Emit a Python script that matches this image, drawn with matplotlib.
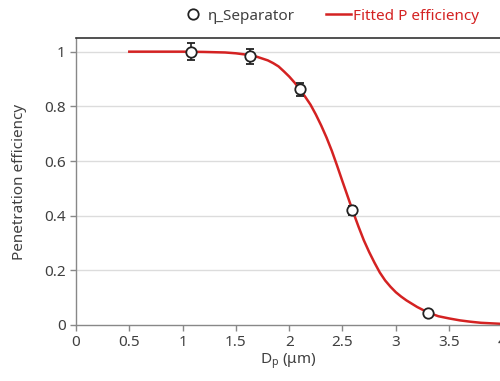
import matplotlib
matplotlib.use("Agg")
import matplotlib.pyplot as plt
from matplotlib.lines import Line2D

plt.rcParams['font.family'] = ['Noto Sans', 'DejaVu Sans']

# measured points (separator penetration efficiency)
dp_meas = [1.08, 1.63, 2.10, 2.59, 3.30]
eta_meas = [1.00, 0.983, 0.862, 0.42, 0.044]
eta_err = [0.030, 0.027, 0.023, 0.017, 0.005]

# fitted curve values
dp_fit = [0.5, 1.0, 1.2, 1.4, 1.5, 1.6, 1.7, 1.8, 1.85, 1.9, 1.95, 2.0,
          2.05, 2.1, 2.15, 2.2, 2.25, 2.3, 2.35, 2.4, 2.45, 2.5, 2.55, 2.6,
          2.65, 2.7, 2.75, 2.8, 2.85, 2.9, 2.95, 3.0, 3.05, 3.1, 3.2, 3.3,
          3.4, 3.5, 3.6, 3.7, 3.8, 3.9, 4.0, 4.2, 4.4]
eta_fit = [1.0, 1.0, 0.999, 0.997, 0.994, 0.989, 0.981, 0.968, 0.958, 0.946,
           0.928, 0.909, 0.887, 0.862, 0.835, 0.806, 0.77, 0.73, 0.686,
           0.637, 0.582, 0.525, 0.469, 0.413, 0.36, 0.31, 0.267, 0.228,
           0.192, 0.163, 0.14, 0.12, 0.104, 0.09, 0.066, 0.046, 0.032,
           0.024, 0.017, 0.012, 0.008, 0.006, 0.004, 0.002, 0.001]

x_ticks = [0, 0.5, 1, 1.5, 2, 2.5, 3, 3.5, 4]
x_tick_labels = ["0", "0.5", "1", "1.5", "2", "2.5", "3", "3.5", "4"]
y_ticks = [0, 0.2, 0.4, 0.6, 0.8, 1.0]
y_tick_labels = ["0", "0.2", "0.4", "0.6", "0.8", "1"]

RED = '#d42222'

fig = plt.figure(figsize=(5.0, 3.81), dpi=100)
ax_w_px = 4.5 * 106.6
ax = fig.add_axes([76 / 500, 56 / 381, ax_w_px / 500, 287 / 381])

ax.set_xlim(0, 4.5)
ax.set_ylim(0, 1.05)

for yv in y_ticks[1:]:
    ax.axhline(yv, color='#dcdcdc', lw=1.0, zorder=0)

ax.plot(dp_fit, eta_fit, color=RED, lw=1.8, zorder=2, solid_joinstyle='round')
ax.errorbar(dp_meas, eta_meas, yerr=eta_err, fmt='o', ms=7.5, mfc='white',
            mec='#222222', mew=1.3, ecolor='#222222', elinewidth=1.2,
            capsize=3, capthick=1.2, zorder=3)

ax.set_xticks(x_ticks)
ax.set_xticklabels(x_tick_labels)
ax.set_yticks(y_ticks)
ax.set_yticklabels(y_tick_labels)
ax.tick_params(axis='both', labelsize=11, colors='#888888', labelcolor='#404040',
               length=4, width=1.0)

for s in ['left', 'bottom']:
    ax.spines[s].set_color('#888888')
    ax.spines[s].set_linewidth(1.0)
ax.spines['top'].set_color('#333333')
ax.spines['top'].set_linewidth(1.2)
ax.spines['right'].set_visible(False)

ax.set_xlabel('D$_{\\mathregular{p}}$ (μm)', fontsize=11, color='#404040')
ax.xaxis.set_label_coords((288 - 76) / ax_w_px, -0.09)
ax.set_ylabel('Penetration efficiency', fontsize=11, color='#404040')
ax.yaxis.set_label_coords(-49 / ax_w_px, 0.5)

handles = [
    Line2D([], [], ls='none', marker='o', ms=7.5, mfc='white', mec='#222222', mew=1.3),
    Line2D([], [], color=RED, lw=1.8),
]
leg = fig.legend(handles, ['η_Separator', 'Fitted P efficiency'], loc='center',
                 bbox_to_anchor=(330 / 500, 1 - 16 / 381), ncol=2, frameon=False,
                 fontsize=11, handlelength=1.65, handletextpad=0.15,
                 columnspacing=2.0)
texts = leg.get_texts()
texts[0].set_color('#404040')
texts[1].set_color(RED)

fig.savefig('out.png', dpi=100)
